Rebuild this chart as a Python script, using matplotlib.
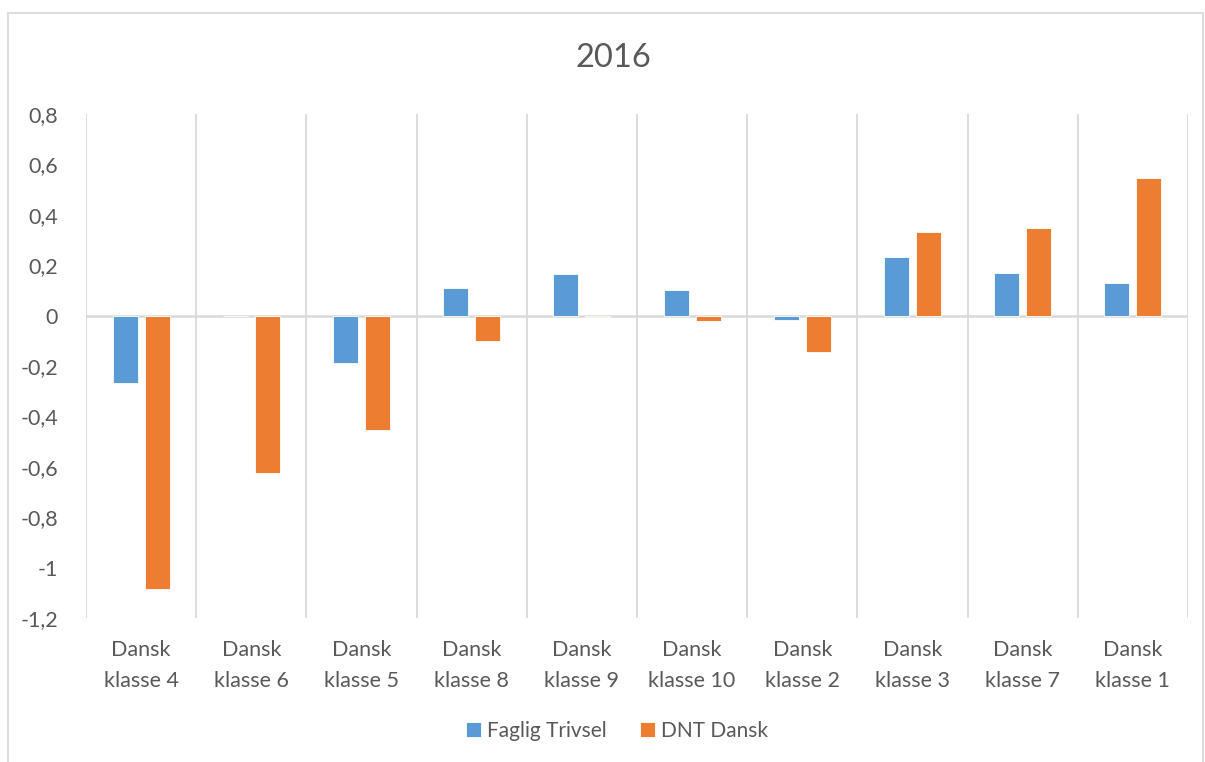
import matplotlib
matplotlib.use("Agg")
import matplotlib.pyplot as plt
import numpy as np
from matplotlib.patches import Rectangle

categories = ["Dansk\nklasse 4", "Dansk\nklasse 6", "Dansk\nklasse 5", "Dansk\nklasse 8",
              "Dansk\nklasse 9", "Dansk\nklasse 10", "Dansk\nklasse 2", "Dansk\nklasse 3",
              "Dansk\nklasse 7", "Dansk\nklasse 1"]
faglig_trivsel = [-0.268, 0.0, -0.187, 0.111, 0.166, 0.103, -0.016, 0.232, 0.169, 0.128]
dnt_dansk = [-1.085, -0.624, -0.453, -0.101, -0.005, -0.022, -0.143, 0.330, 0.347, 0.548]
series_names = ["Faglig Trivsel", "DNT Dansk"]
yticks = [0.8, 0.6, 0.4, 0.2, 0.0, -0.2, -0.4, -0.6, -0.8, -1.0, -1.2]
title = "2016"

plt.rcParams['font.family'] = ['Lato', 'DejaVu Sans']
txt = "#595959"
blue = "#5B9BD5"
orange = "#ED7D31"
grid = "#D9D9D9"

fig = plt.figure(figsize=(12.05, 7.62), dpi=100)
W, H = 1205, 762
left, right, top, bottom = 86, 1188, 114, 618
ax = fig.add_axes([left / W, 1 - bottom / H, (right - left) / W, (bottom - top) / H])

x = np.arange(len(categories))
bw = 0.227
off = 0.145
ax.bar(x - off, faglig_trivsel, bw, color=blue, edgecolor="white", linewidth=0.6, zorder=3,
       label=series_names[0])
ax.bar(x + off, dnt_dansk, bw, color=orange, edgecolor="white", linewidth=0.6, zorder=3,
       label=series_names[1])

ax.set_xlim(-0.5, len(categories) - 0.5)
ax.set_ylim(-1.2, 0.8)
ax.set_yticks(yticks)
ax.set_yticklabels([("%g" % v).replace(".", ",") for v in yticks])
ax.set_xticks(x)
ax.set_xticklabels(categories, linespacing=1.7)
for b in np.arange(-0.5, len(categories), 1.0):
    ax.axvline(b, color=grid, linewidth=1.3, zorder=1)
ax.axhline(0, color=grid, linewidth=1.8, zorder=2)

for s in ax.spines.values():
    s.set_visible(False)
ax.tick_params(axis="both", length=0, labelsize=15.5, colors=txt)
ax.tick_params(axis="y", pad=20)
ax.tick_params(axis="x", pad=16)

fig.text(613 / W, 1 - 58 / H, title, ha="center", va="center", fontsize=23.5, color=txt)

leg = fig.legend(loc="center", bbox_to_anchor=(617 / W, 1 - 731 / H), ncol=2, frameon=False,
                 fontsize=15, handlelength=0.7, handleheight=0.7, handletextpad=0.3,
                 columnspacing=1.6, labelcolor=txt)

# chart border
fig.patches.append(Rectangle((8 / W, -0.05), (1203 - 8) / W, (1 - 13 / H) + 0.05,
                             transform=fig.transFigure, fill=False, edgecolor=grid,
                             linewidth=1.3))

fig.savefig("out.png", dpi=100, facecolor="white")
